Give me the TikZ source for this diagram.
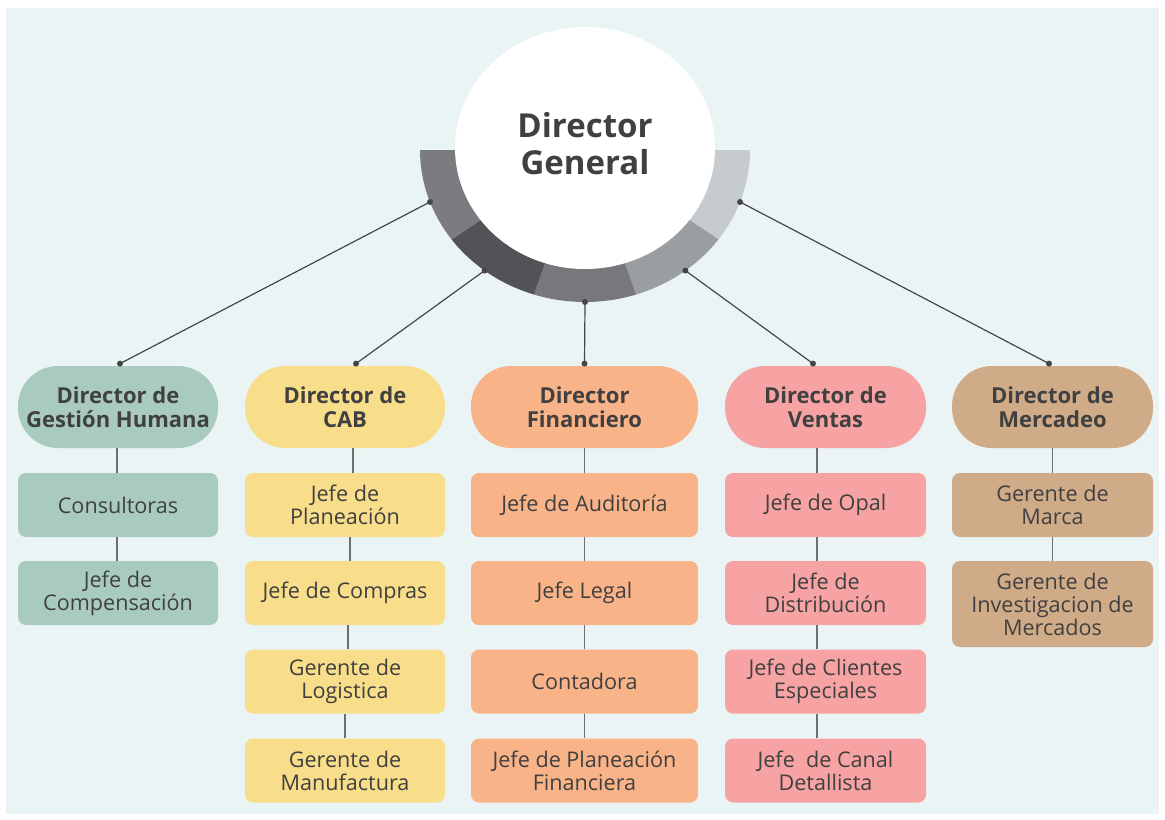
\documentclass[tikz,border=0pt]{standalone}
\usepackage{fontspec}
\setmainfont{Open Sans}
\usetikzlibrary{shapes.geometric,calc}
\definecolor{BackClr}{HTML}{EAF4F5}
\definecolor{TextClr}{HTML}{404040}
\definecolor{LineClr}{HTML}{464646}
\definecolor{StemClr}{HTML}{6E6E6E}
\definecolor{HumanClr}{HTML}{A8CBBE}
\definecolor{CabClr}{HTML}{F8DE8A}
\definecolor{FinClr}{HTML}{F9B388}
\definecolor{SalesClr}{HTML}{F7A3A4}
\definecolor{MarketClr}{HTML}{D0AB88}
\definecolor{RingA}{HTML}{C5CBCE}
\definecolor{RingB}{HTML}{9A9EA1}
\definecolor{RingC}{HTML}{77777C}
\definecolor{RingD}{HTML}{535257}
\definecolor{RingE}{HTML}{7B7B80}

\begin{document}
\begin{tikzpicture}[x=0.5pt,y=-0.5pt,
  director/.style={rounded corners=20pt,minimum height=41pt,inner sep=0pt,
    text=TextClr,align=center,font=\bfseries\fontsize{11}{12}\selectfont},
  job/.style={rounded corners=4pt,minimum height=32pt,inner sep=0pt,
    text=TextClr,align=center,font=\fontsize{10.8}{11.5}\selectfont},
  link/.style={LineClr,line width=0.6pt},
  stem/.style={StemClr,line width=0.6pt},
  pin/.style={circle,fill=LineClr,inner sep=0pt,minimum size=3pt}]

\useasboundingbox (0,0) rectangle (1165,819);
\fill[white] (0,0) rectangle (1165,819);
\fill[BackClr] (6,8) rectangle (1159,814);

% ring under the general director
\foreach \a/\b/\clr in {0/36/RingA,36/72/RingB,72/108/RingC,108/144/RingD,144/180/RingE}
  \fill[\clr] (585,150) -- plot[domain=\a:\b,samples=20] ({585+165*cos(\x)},{150+152*sin(\x)}) -- cycle;

\fill[white] (585,148) ellipse[x radius=65pt,y radius=60.5pt];
\node[text=TextClr,align=center,font=\bfseries\fontsize{16.5}{18.5}\selectfont]
  (gen) at (585,144) {Director\\General};

\foreach \n/\t in {1/160,2/127.5,3/90,4/52.5,5/20}
  \coordinate (p\n) at ({585+165*cos(\t)},{150+152*sin(\t)});

% directors
\node[director,fill=HumanClr,minimum width=100pt] (d1) at (118,407) {Director de\\Gestión Humana};
\node[director,fill=CabClr,minimum width=100pt] (d2) at (345,407) {Director de\\CAB};
\node[director,fill=FinClr,minimum width=113.5pt] (d3) at (584.5,407) {Director\\Financiero};
\node[director,fill=SalesClr,minimum width=100.5pt] (d4) at (825.5,407) {Director de\\Ventas};
\node[director,fill=MarketClr,minimum width=100.5pt] (d5) at (1052.5,407) {Director de\\Mercadeo};

% jobs
\node[job,fill=HumanClr,minimum width=100pt] (j11) at (118,505) {Consultoras};
\node[job,fill=HumanClr,minimum width=100pt] (j12) at (118,593) {Jefe de\\Compensación};

\node[job,fill=CabClr,minimum width=100pt] (j21) at (345,505) {Jefe de\\Planeación};
\node[job,fill=CabClr,minimum width=100pt] (j22) at (345,593) {Jefe de Compras};
\node[job,fill=CabClr,minimum width=100pt] (j23) at (345,681.5) {Gerente de\\Logistica};
\node[job,fill=CabClr,minimum width=100pt] (j24) at (345,770.5) {Gerente de\\Manufactura};

\node[job,fill=FinClr,minimum width=113.5pt] (j31) at (584.5,505) {Jefe de Auditoría};
\node[job,fill=FinClr,minimum width=113.5pt] (j32) at (584.5,593) {Jefe Legal};
\node[job,fill=FinClr,minimum width=113.5pt] (j33) at (584.5,681.5) {Contadora};
\node[job,fill=FinClr,minimum width=113.5pt] (j34) at (584.5,770.5) {Jefe de Planeación\\Financiera};

\node[job,fill=SalesClr,minimum width=100.5pt] (j41) at (825.5,505) {Jefe de Opal};
\node[job,fill=SalesClr,minimum width=100.5pt] (j42) at (825.5,593) {Jefe de\\Distribución};
\node[job,fill=SalesClr,minimum width=100.5pt] (j43) at (825.5,681.5) {Jefe de Clientes\\Especiales};
\node[job,fill=SalesClr,minimum width=100.5pt] (j44) at (825.5,770.5) {Jefe\ \ de Canal\\Detallista};

\node[job,fill=MarketClr,minimum width=100.5pt] (j51) at (1052.5,505) {Gerente de\\Marca};
\node[job,fill=MarketClr,minimum width=100.5pt,minimum height=43pt] (j52) at (1052.5,604) {Gerente de\\Investigacion de\\Mercados};

% links from the ring
\foreach \n/\s in {1/1pt,2/5.5pt,3/0pt,4/-6.25pt,5/-1.75pt} {
  \coordinate (t\n) at ([xshift=\s,yshift=1pt]d\n.north);
  \draw[link] (p\n) -- (t\n);
  \node[pin] (pa\n) at (p\n) {};
  \node[pin] (pb\n) at (t\n) {};
}

\foreach \a/\b/\s in {d1/j11/-0.5pt,j11/j12/-0.5pt,
    d2/j21/4pt,j21/j22/2.5pt,j22/j23/1.5pt,j23/j24/0pt,
    d3/j31/0pt,j31/j32/0pt,j32/j33/0pt,j33/j34/0pt,
    d4/j41/-4.25pt,j41/j42/-4.25pt,j42/j43/-4.25pt,j43/j44/-4.25pt,
    d5/j51/0pt,j51/j52/0pt}
  \draw[stem] ([xshift=\s]\a.south) -- ([xshift=\s]\b.north);

\end{tikzpicture}
\end{document}
